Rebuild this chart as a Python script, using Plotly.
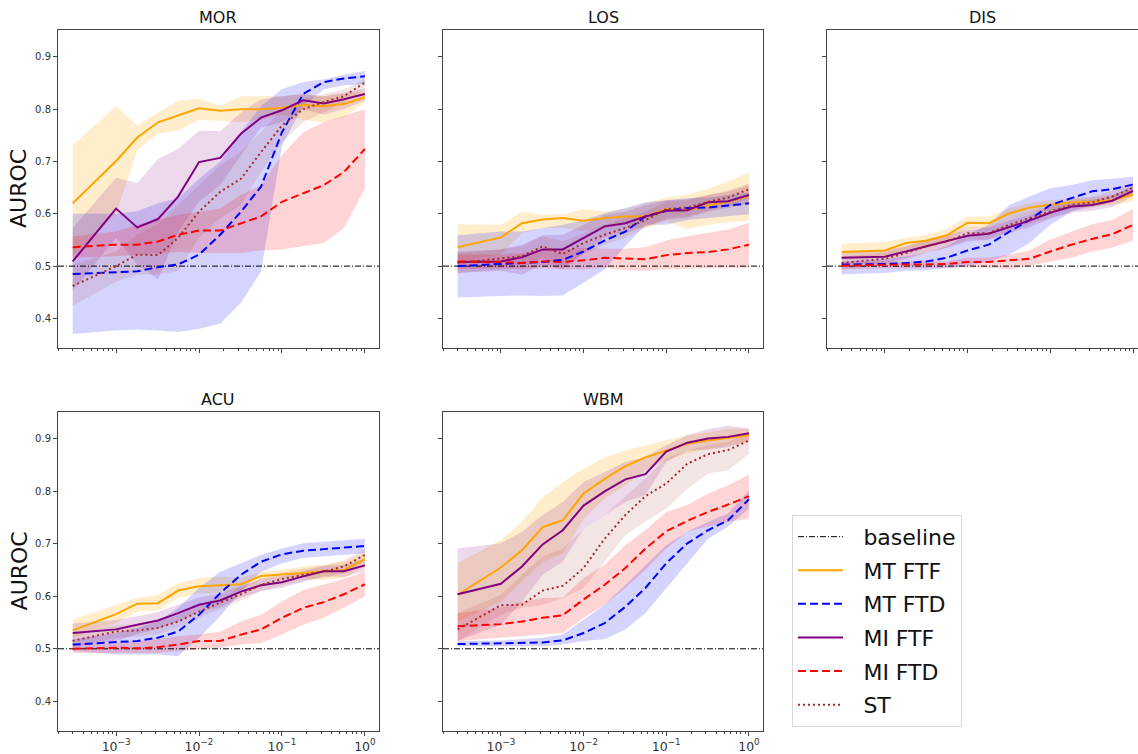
import plotly.graph_objects as go

# ---------------- data ----------------
X = [0.0003, 0.001, 0.0018, 0.0032, 0.0056, 0.01, 0.018, 0.032, 0.056, 0.1, 0.18, 0.32, 0.56, 1.0]
TASKS = ["MOR", "LOS", "DIS", "ACU", "WBM"]
SERIES = ["MT FTF", "MT FTD", "MI FTF", "MI FTD", "ST"]
BASELINE = 0.5

# MOR
MOR_MT_FTF = [0.620, 0.701, 0.746, 0.775, 0.788, 0.802, 0.797, 0.800, 0.800, 0.803, 0.808, 0.806, 0.810, 0.823]
MOR_MT_FTF_HI = [0.731, 0.806, 0.769, 0.794, 0.816, 0.820, 0.806, 0.825, 0.825, 0.825, 0.829, 0.825, 0.829, 0.835]
MOR_MT_FTF_LO = [0.520, 0.600, 0.721, 0.753, 0.759, 0.780, 0.778, 0.775, 0.780, 0.790, 0.780, 0.775, 0.785, 0.813]
MOR_MT_FTD = [0.485, 0.489, 0.490, 0.498, 0.503, 0.522, 0.560, 0.604, 0.652, 0.756, 0.829, 0.852, 0.859, 0.863]
MOR_MT_FTD_HI = [0.600, 0.600, 0.605, 0.620, 0.630, 0.667, 0.700, 0.756, 0.806, 0.838, 0.852, 0.857, 0.866, 0.873]
MOR_MT_FTD_LO = [0.370, 0.377, 0.379, 0.377, 0.374, 0.380, 0.390, 0.430, 0.490, 0.730, 0.806, 0.838, 0.846, 0.848]
MOR_MI_FTF = [0.509, 0.610, 0.574, 0.590, 0.633, 0.699, 0.707, 0.753, 0.784, 0.798, 0.817, 0.811, 0.819, 0.829]
MOR_MI_FTF_HI = [0.573, 0.669, 0.659, 0.705, 0.724, 0.759, 0.758, 0.794, 0.819, 0.825, 0.829, 0.825, 0.832, 0.839]
MOR_MI_FTF_LO = [0.453, 0.554, 0.503, 0.475, 0.566, 0.623, 0.655, 0.712, 0.765, 0.775, 0.800, 0.790, 0.800, 0.816]
MOR_MI_FTD = [0.536, 0.541, 0.541, 0.547, 0.560, 0.568, 0.568, 0.582, 0.595, 0.623, 0.639, 0.655, 0.680, 0.724]
MOR_MI_FTD_HI = [0.557, 0.566, 0.579, 0.588, 0.598, 0.604, 0.610, 0.636, 0.655, 0.712, 0.756, 0.775, 0.788, 0.800]
MOR_MI_FTD_LO = [0.516, 0.519, 0.522, 0.524, 0.527, 0.525, 0.525, 0.525, 0.530, 0.532, 0.538, 0.544, 0.573, 0.648]
MOR_ST = [0.462, 0.500, 0.522, 0.521, 0.554, 0.604, 0.642, 0.667, 0.718, 0.769, 0.800, 0.814, 0.825, 0.851]
MOR_ST_HI = [0.503, 0.528, 0.560, 0.580, 0.617, 0.655, 0.693, 0.718, 0.756, 0.800, 0.819, 0.829, 0.838, 0.857]
MOR_ST_LO = [0.424, 0.470, 0.484, 0.484, 0.490, 0.554, 0.592, 0.617, 0.680, 0.737, 0.775, 0.794, 0.813, 0.838]

# LOS
LOS_MT_FTF = [0.536, 0.555, 0.582, 0.589, 0.592, 0.587, 0.592, 0.595, 0.595, 0.609, 0.607, 0.616, 0.623, 0.634]
LOS_MT_FTF_HI = [0.580, 0.579, 0.604, 0.598, 0.599, 0.609, 0.604, 0.609, 0.620, 0.631, 0.637, 0.648, 0.662, 0.679]
LOS_MT_FTF_LO = [0.509, 0.522, 0.563, 0.573, 0.573, 0.566, 0.573, 0.579, 0.573, 0.585, 0.571, 0.579, 0.584, 0.587]
LOS_MT_FTD = [0.500, 0.504, 0.506, 0.508, 0.512, 0.528, 0.549, 0.566, 0.595, 0.606, 0.611, 0.612, 0.616, 0.620]
LOS_MT_FTD_HI = [0.559, 0.566, 0.566, 0.573, 0.579, 0.588, 0.601, 0.611, 0.622, 0.626, 0.630, 0.631, 0.636, 0.641]
LOS_MT_FTD_LO = [0.440, 0.443, 0.444, 0.443, 0.444, 0.468, 0.494, 0.538, 0.579, 0.579, 0.588, 0.592, 0.595, 0.599]
LOS_MI_FTF = [0.508, 0.509, 0.517, 0.532, 0.532, 0.554, 0.576, 0.582, 0.595, 0.606, 0.607, 0.622, 0.624, 0.636]
LOS_MI_FTF_HI = [0.528, 0.532, 0.541, 0.559, 0.560, 0.579, 0.598, 0.604, 0.617, 0.626, 0.628, 0.636, 0.642, 0.655]
LOS_MI_FTF_LO = [0.487, 0.491, 0.484, 0.503, 0.494, 0.525, 0.554, 0.563, 0.576, 0.588, 0.592, 0.604, 0.611, 0.620]
LOS_MI_FTD = [0.509, 0.508, 0.506, 0.509, 0.508, 0.511, 0.516, 0.515, 0.513, 0.521, 0.525, 0.527, 0.532, 0.541]
LOS_MI_FTD_HI = [0.522, 0.522, 0.525, 0.532, 0.532, 0.535, 0.533, 0.533, 0.536, 0.549, 0.557, 0.563, 0.570, 0.583]
LOS_MI_FTD_LO = [0.494, 0.496, 0.494, 0.496, 0.494, 0.494, 0.497, 0.492, 0.491, 0.494, 0.494, 0.496, 0.497, 0.497]
LOS_ST = [0.506, 0.514, 0.519, 0.538, 0.523, 0.544, 0.560, 0.573, 0.588, 0.609, 0.612, 0.623, 0.631, 0.647]
LOS_ST_HI = [0.525, 0.532, 0.538, 0.557, 0.547, 0.563, 0.579, 0.592, 0.604, 0.623, 0.626, 0.636, 0.645, 0.658]
LOS_ST_LO = [0.487, 0.494, 0.497, 0.516, 0.497, 0.522, 0.541, 0.554, 0.573, 0.592, 0.595, 0.607, 0.614, 0.630]

# DIS
DIS_MT_FTF = [0.527, 0.530, 0.544, 0.549, 0.559, 0.583, 0.582, 0.601, 0.612, 0.617, 0.622, 0.623, 0.626, 0.637]
DIS_MT_FTF_HI = [0.543, 0.546, 0.554, 0.560, 0.571, 0.595, 0.595, 0.611, 0.620, 0.626, 0.630, 0.631, 0.636, 0.650]
DIS_MT_FTF_LO = [0.513, 0.516, 0.532, 0.538, 0.547, 0.573, 0.570, 0.592, 0.601, 0.607, 0.611, 0.614, 0.617, 0.623]
DIS_MT_FTD = [0.503, 0.504, 0.506, 0.509, 0.516, 0.530, 0.541, 0.566, 0.588, 0.617, 0.630, 0.643, 0.647, 0.656]
DIS_MT_FTD_HI = [0.509, 0.513, 0.519, 0.525, 0.538, 0.560, 0.579, 0.617, 0.633, 0.649, 0.655, 0.664, 0.667, 0.671]
DIS_MT_FTD_LO = [0.484, 0.487, 0.491, 0.492, 0.496, 0.500, 0.509, 0.522, 0.544, 0.579, 0.604, 0.617, 0.626, 0.639]
DIS_MI_FTF = [0.516, 0.518, 0.528, 0.538, 0.547, 0.558, 0.562, 0.575, 0.587, 0.602, 0.614, 0.617, 0.625, 0.644]
DIS_MI_FTF_HI = [0.527, 0.529, 0.539, 0.549, 0.558, 0.569, 0.573, 0.587, 0.598, 0.613, 0.623, 0.627, 0.635, 0.654]
DIS_MI_FTF_LO = [0.503, 0.506, 0.516, 0.525, 0.535, 0.547, 0.551, 0.563, 0.574, 0.591, 0.602, 0.606, 0.613, 0.633]
DIS_MI_FTD = [0.501, 0.503, 0.503, 0.503, 0.504, 0.508, 0.508, 0.511, 0.514, 0.528, 0.541, 0.552, 0.561, 0.579]
DIS_MI_FTD_HI = [0.506, 0.509, 0.509, 0.509, 0.509, 0.516, 0.516, 0.522, 0.530, 0.551, 0.566, 0.580, 0.588, 0.609]
DIS_MI_FTD_LO = [0.494, 0.496, 0.496, 0.497, 0.497, 0.498, 0.497, 0.494, 0.500, 0.509, 0.516, 0.528, 0.535, 0.549]
DIS_ST = [0.506, 0.514, 0.525, 0.538, 0.547, 0.563, 0.563, 0.579, 0.592, 0.604, 0.617, 0.622, 0.633, 0.650]
DIS_ST_HI = [0.518, 0.526, 0.537, 0.550, 0.559, 0.575, 0.575, 0.591, 0.604, 0.616, 0.628, 0.633, 0.644, 0.661]
DIS_ST_LO = [0.494, 0.502, 0.513, 0.526, 0.535, 0.551, 0.551, 0.567, 0.580, 0.592, 0.606, 0.611, 0.622, 0.639]

# ACU
ACU_MT_FTF = [0.535, 0.566, 0.586, 0.587, 0.611, 0.619, 0.621, 0.623, 0.639, 0.642, 0.644, 0.648, 0.650, 0.671]
ACU_MT_FTF_HI = [0.556, 0.584, 0.597, 0.603, 0.625, 0.635, 0.638, 0.635, 0.647, 0.650, 0.657, 0.660, 0.666, 0.682]
ACU_MT_FTF_LO = [0.521, 0.549, 0.571, 0.573, 0.597, 0.606, 0.606, 0.612, 0.631, 0.635, 0.635, 0.631, 0.635, 0.657]
ACU_MT_FTD = [0.508, 0.513, 0.515, 0.521, 0.533, 0.565, 0.606, 0.641, 0.666, 0.680, 0.687, 0.690, 0.693, 0.696]
ACU_MT_FTD_HI = [0.518, 0.530, 0.540, 0.552, 0.578, 0.616, 0.647, 0.663, 0.679, 0.691, 0.701, 0.704, 0.707, 0.710]
ACU_MT_FTD_LO = [0.496, 0.489, 0.489, 0.489, 0.486, 0.521, 0.562, 0.609, 0.647, 0.663, 0.673, 0.676, 0.679, 0.682]
ACU_MI_FTF = [0.530, 0.537, 0.546, 0.554, 0.568, 0.584, 0.592, 0.609, 0.621, 0.627, 0.638, 0.648, 0.648, 0.659]
ACU_MI_FTF_HI = [0.548, 0.555, 0.562, 0.570, 0.584, 0.598, 0.605, 0.620, 0.632, 0.638, 0.648, 0.658, 0.660, 0.671]
ACU_MI_FTF_LO = [0.505, 0.515, 0.528, 0.538, 0.552, 0.570, 0.579, 0.598, 0.610, 0.616, 0.628, 0.638, 0.637, 0.648]
ACU_MI_FTD = [0.500, 0.502, 0.501, 0.503, 0.508, 0.515, 0.515, 0.527, 0.537, 0.559, 0.578, 0.589, 0.604, 0.623]
ACU_MI_FTD_HI = [0.507, 0.511, 0.515, 0.518, 0.524, 0.527, 0.533, 0.552, 0.565, 0.590, 0.612, 0.622, 0.633, 0.647]
ACU_MI_FTD_LO = [0.492, 0.492, 0.492, 0.492, 0.496, 0.499, 0.502, 0.508, 0.511, 0.527, 0.546, 0.559, 0.578, 0.600]
ACU_ST = [0.515, 0.533, 0.535, 0.540, 0.552, 0.571, 0.588, 0.604, 0.622, 0.633, 0.641, 0.647, 0.657, 0.679]
ACU_ST_HI = [0.527, 0.545, 0.547, 0.552, 0.564, 0.583, 0.600, 0.616, 0.634, 0.645, 0.653, 0.659, 0.669, 0.690]
ACU_ST_LO = [0.503, 0.521, 0.523, 0.528, 0.540, 0.559, 0.576, 0.592, 0.610, 0.621, 0.629, 0.635, 0.645, 0.668]

# WBM
WBM_MT_FTF = [0.603, 0.655, 0.688, 0.732, 0.745, 0.796, 0.824, 0.848, 0.865, 0.878, 0.891, 0.897, 0.902, 0.907]
WBM_MT_FTF_HI = [0.663, 0.707, 0.742, 0.789, 0.818, 0.843, 0.865, 0.878, 0.888, 0.897, 0.907, 0.913, 0.920, 0.920]
WBM_MT_FTF_LO = [0.552, 0.590, 0.628, 0.666, 0.682, 0.748, 0.786, 0.812, 0.840, 0.859, 0.873, 0.880, 0.888, 0.894]
WBM_MT_FTD = [0.509, 0.511, 0.511, 0.512, 0.516, 0.530, 0.549, 0.580, 0.616, 0.663, 0.701, 0.726, 0.745, 0.785]
WBM_MT_FTD_HI = [0.515, 0.516, 0.518, 0.521, 0.527, 0.556, 0.584, 0.622, 0.660, 0.698, 0.723, 0.742, 0.758, 0.802]
WBM_MT_FTD_LO = [0.505, 0.505, 0.505, 0.505, 0.508, 0.515, 0.518, 0.537, 0.568, 0.616, 0.663, 0.710, 0.733, 0.767]
WBM_MI_FTF = [0.604, 0.624, 0.657, 0.699, 0.726, 0.773, 0.800, 0.823, 0.833, 0.876, 0.893, 0.901, 0.904, 0.911]
WBM_MI_FTF_HI = [0.691, 0.701, 0.723, 0.755, 0.780, 0.818, 0.837, 0.856, 0.866, 0.888, 0.907, 0.919, 0.925, 0.920]
WBM_MI_FTF_LO = [0.515, 0.546, 0.590, 0.641, 0.666, 0.729, 0.755, 0.780, 0.793, 0.856, 0.878, 0.880, 0.884, 0.897]
WBM_MI_FTD = [0.543, 0.547, 0.552, 0.559, 0.564, 0.594, 0.622, 0.654, 0.691, 0.724, 0.744, 0.761, 0.775, 0.791]
WBM_MI_FTD_HI = [0.568, 0.578, 0.590, 0.597, 0.598, 0.635, 0.660, 0.698, 0.726, 0.761, 0.774, 0.796, 0.812, 0.832]
WBM_MI_FTD_LO = [0.515, 0.521, 0.524, 0.527, 0.530, 0.559, 0.584, 0.616, 0.650, 0.691, 0.723, 0.733, 0.742, 0.748]
WBM_ST = [0.537, 0.583, 0.584, 0.611, 0.620, 0.654, 0.710, 0.755, 0.791, 0.815, 0.853, 0.871, 0.879, 0.897]
WBM_ST_HI = [0.568, 0.603, 0.641, 0.676, 0.691, 0.729, 0.755, 0.790, 0.825, 0.863, 0.878, 0.888, 0.894, 0.911]
WBM_ST_LO = [0.515, 0.565, 0.578, 0.584, 0.597, 0.616, 0.666, 0.717, 0.742, 0.767, 0.805, 0.834, 0.840, 0.872]

Y_TICKS = [0.4, 0.5, 0.6, 0.7, 0.8, 0.9]

# ---------------- assembly ----------------
g = globals()
DATA = {t: {s: (g[f"{t}_{s.replace(' ', '_')}"],
                g[f"{t}_{s.replace(' ', '_')}_LO"],
                g[f"{t}_{s.replace(' ', '_')}_HI"]) for s in SERIES} for t in TASKS}

STYLE = {
    "MT FTF": dict(color="rgb(255,165,0)", dash="solid", fill="rgba(255,165,0,0.2)"),
    "MT FTD": dict(color="rgb(0,0,255)", dash="8px,4px", fill="rgba(0,0,255,0.17)"),
    "MI FTF": dict(color="rgb(128,0,128)", dash="solid", fill="rgba(128,0,128,0.15)"),
    "MI FTD": dict(color="rgb(255,0,0)", dash="8px,4px", fill="rgba(255,0,0,0.17)"),
    "ST": dict(color="rgb(165,42,42)", dash="2px,3px", fill="rgba(165,42,42,0.12)"),
}
PAD = "\u2002\u2009"  # visual gap between legend sample and label

W, H = 1138, 754
COLS = [(58, 379), (443, 763), (827, 1138)]
ROWS = [(30, 351), (415, 737)]
POS = {"MOR": (0, 0), "LOS": (0, 1), "DIS": (0, 2), "ACU": (1, 0), "WBM": (1, 1)}
XR = [-3.70, 0.17]
XR_DIS = [-3.70, 0.06]
YR = [0.343, 0.952]
AX = "#444"
FONT = "DejaVu Sans"

fig = go.Figure()
layout = dict(width=W, height=H, margin=dict(l=0, r=0, t=0, b=0),
              paper_bgcolor="white", plot_bgcolor="white",
              font=dict(family=FONT, color="#222"), annotations=[])

for i, t in enumerate(TASKS, start=1):
    r, c = POS[t]
    xa, ya = f"x{i}", f"y{i}"
    x0, x1 = COLS[c]
    y0, y1 = ROWS[r]
    xr = XR_DIS if t == "DIS" else XR
    key = "" if i == 1 else str(i)
    layout["xaxis" + key] = dict(
        domain=[x0 / W, x1 / W], type="log", range=xr, anchor=ya,
        showgrid=False, zeroline=False, showline=True, mirror=True,
        linecolor=AX, linewidth=1, ticks="outside", ticklen=4, tickwidth=1,
        tickcolor=AX, dtick=1, exponentformat="power",
        labelalias={"1": "10<sup>0</sup>"},
        showticklabels=(r == 1), tickfont=dict(size=10, color="#333", family=FONT),
        minor=dict(ticks="outside", ticklen=2, tickwidth=0.8, tickcolor=AX, showgrid=False),
    )
    layout["yaxis" + key] = dict(
        domain=[1 - y1 / H, 1 - y0 / H], range=YR, anchor=xa,
        showgrid=False, zeroline=False, showline=True, mirror=(t != "DIS"),
        linecolor=AX, linewidth=1, ticks="outside", ticklen=4, tickwidth=1,
        tickcolor=AX, tickvals=Y_TICKS, ticktext=[f"{v:.1f}" for v in Y_TICKS],
        showticklabels=(c == 0), tickfont=dict(size=10, color="#333", family=FONT),
    )
    # title
    layout["annotations"].append(dict(
        text=t, x=(x0 + min(x1, x0 + 320)) / 2 / W, y=1 - (y0 - 12) / H,
        xref="paper", yref="paper", showarrow=False, xanchor="center", yanchor="middle",
        font=dict(size=16, color="#111", family=FONT)))

    # bands
    for s in SERIES:
        m, lo, hi = DATA[t][s]
        fig.add_trace(go.Scatter(
            x=X + X[::-1], y=hi + lo[::-1], fill="toself", fillcolor=STYLE[s]["fill"],
            line=dict(width=0, color="rgba(0,0,0,0)"), mode="lines", hoverinfo="skip",
            showlegend=False, legendgroup=s, xaxis=xa, yaxis=ya))
    # baseline
    fig.add_trace(go.Scatter(
        x=[10 ** xr[0], 10 ** xr[1]], y=[BASELINE, BASELINE], mode="lines",
        name=PAD + "baseline", legendgroup="baseline", showlegend=(i == 1),
        line=dict(color="black", width=1, dash="6px,2px,1px,2px"),
        xaxis=xa, yaxis=ya))
    # lines
    for s in SERIES:
        m, lo, hi = DATA[t][s]
        fig.add_trace(go.Scatter(
            x=X, y=m, mode="lines", name=PAD + s, legendgroup=s, showlegend=(i == 1),
            line=dict(color=STYLE[s]["color"], width=2, dash=STYLE[s]["dash"]),
            xaxis=xa, yaxis=ya))

for r, (y0, y1) in enumerate(ROWS):
    layout["annotations"].append(dict(
        text="AUROC", x=19 / W, y=1 - (y0 + y1) / 2 / H, xref="paper", yref="paper",
        showarrow=False, textangle=-90, xanchor="center", yanchor="middle",
        font=dict(size=22, color="#111", family=FONT)))

layout["legend"] = dict(
    x=792 / W, y=1 - 519 / H, xanchor="left", yanchor="top",
    font=dict(size=22, family=FONT, color="#111"),
    bordercolor="#d8d8d8", borderwidth=1, bgcolor="white",
    tracegroupgap=2, itemwidth=45, traceorder="grouped")

fig.update_layout(**layout)
fig.write_html("out.html")
